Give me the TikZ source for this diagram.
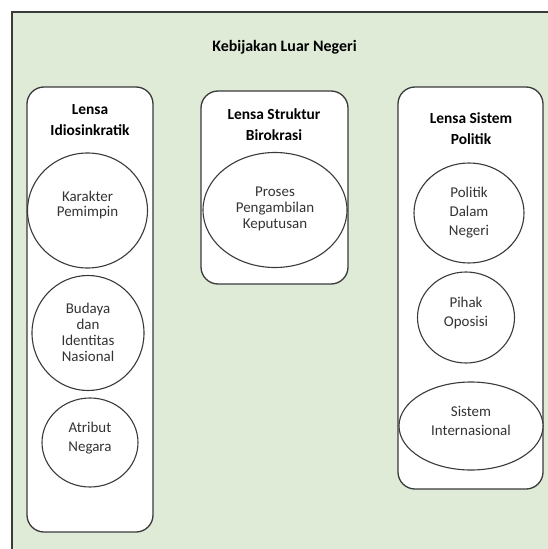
\documentclass[tikz,border=0pt]{standalone}
\usepackage{fontspec}
\setmainfont{Carlito}
\usetikzlibrary{shapes.geometric}
\definecolor{bggreen}{HTML}{DFEBD7}
\definecolor{edge}{HTML}{3A3A3A}
\definecolor{txt}{HTML}{333333}
\begin{document}
\begin{tikzpicture}[x=1bp,y=-1bp,
  lensbox/.style={draw=edge,line width=1.3bp,fill=white,rounded corners=17bp},
  item/.style={ellipse,draw=edge,line width=1.1bp,fill=white,inner sep=0pt},
  itemtext/.style={text=txt,align=center,font=\fontsize{15}{19}\selectfont},
  itemtight/.style={text=txt,align=center,font=\fontsize{15}{16}\selectfont},
  head/.style={align=center,font=\bfseries\fontsize{15.5}{21}\selectfont,text=black},
  ]
\useasboundingbox (0,0) rectangle (548,549);
\clip (0,0) rectangle (548,549);
\fill[white] (0,0) rectangle (548,549);
% outer frame
\fill[bggreen] (12,12) rectangle (560,560);
\draw[edge,line width=1.6bp] (12,565) -- (12,12) -- (560,12);
\node[head,font=\bfseries\fontsize{16}{21}\selectfont] (title) at (284.5,47) {Kebijakan Luar Negeri};
% boxes
\draw[lensbox] (27,87) rectangle (153,532);
\draw[lensbox] (201,91) rectangle (348,284);
\draw[lensbox] (398,87) rectangle (543,489);
\node[head] (h1) at (90,120) {Lensa\\Idiosinkratik};
\node[head] (h2) at (274,124.5) {Lensa Struktur\\Birokrasi};
\node[head] (h3) at (471,128.5) {Lensa Sistem\\Politik};
% items
\node[item,minimum width=120bp,minimum height=115bp] (k1) at (87.5,210.5) {};
\node[itemtight] (k1t) at (87.5,205) {Karakter\\Pemimpin};
\node[item,minimum width=112bp,minimum height=115bp] (k2) at (88,333) {};
\node[itemtight] (k2t) at (88,332.5) {Budaya\\dan\\Identitas\\Nasional};
\node[item,minimum width=96bp,minimum height=89bp] (k3) at (90,442.5) {};
\node[itemtext] (k3t) at (90,438.5) {Atribut\\Negara};
\node[item,minimum width=144bp,minimum height=115bp] (p1) at (275,210) {};
\node[itemtight] (p1t) at (275,209) {Proses\\Pengambilan\\Keputusan};
\node[item,minimum width=110bp,minimum height=100bp] (s1) at (469,213) {};
\node[itemtext] (s1t) at (469,213) {Politik\\Dalam\\Negeri};
\node[item,minimum width=97bp,minimum height=91bp] (s2) at (466,317.5) {};
\node[itemtext] (s2t) at (466,313) {Pihak\\Oposisi};
\node[item,minimum width=144bp,minimum height=88bp] (s3) at (471,426) {};
\node[itemtext] (s3t) at (471,421) {Sistem\\Internasional};
\end{tikzpicture}
\end{document}
